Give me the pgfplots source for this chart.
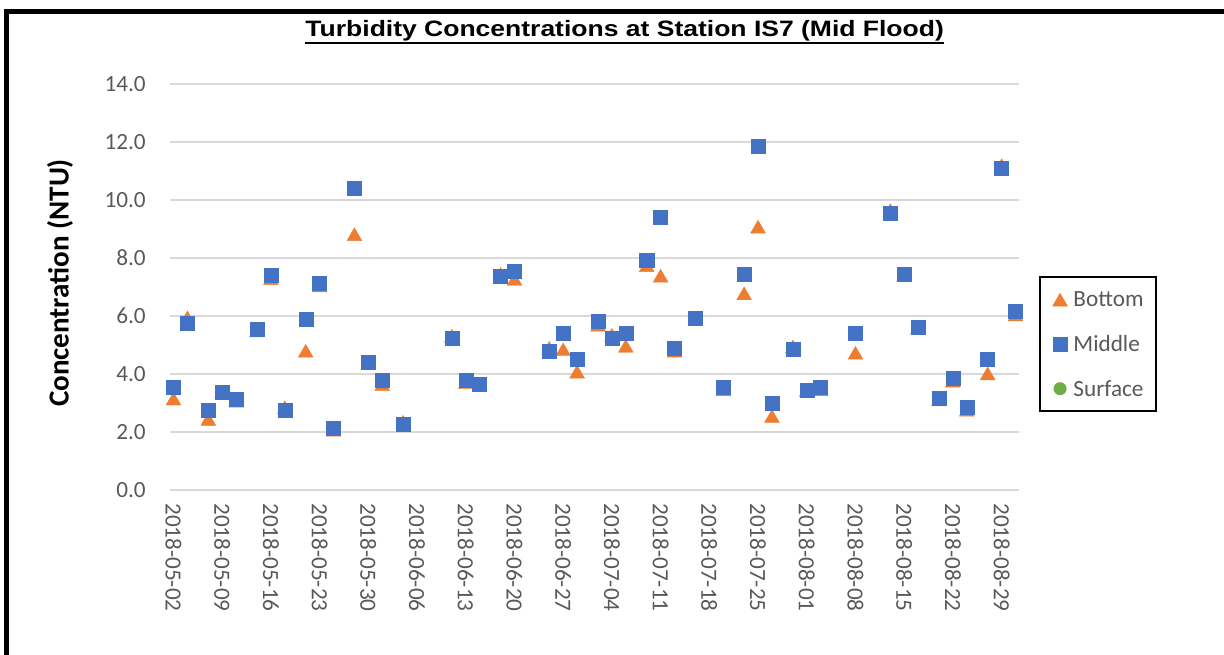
\documentclass[border=0pt]{standalone}
\usepackage{fontspec}
\setmainfont{Carlito}
\newfontfamily\arialfont{Liberation Sans}
\usepackage{graphicx}
\usepackage{pgfplots}
\usepackage{pgfplotstable}
\pgfplotsset{compat=1.18}
\definecolor{obor}{HTML}{ED7D31}
\definecolor{bmid}{HTML}{4472C4}
\definecolor{gsur}{HTML}{70AD47}
\definecolor{gridg}{HTML}{D9D9D9}
\definecolor{tickg}{HTML}{595959}

% day = days after 2018-05-02
\pgfplotstableread{
day bottom middle
0 3.15 3.56
2 5.95 5.75
5 2.45 2.76
7 3.40 3.36
9 3.08 3.14
12 5.50 5.55
14 7.30 7.39
16 2.85 2.76
19 4.80 5.90
21 7.05 7.13
23 2.08 2.14
26 8.82 10.40
28 4.40 4.40
30 3.65 3.79
33 2.35 2.26
40 5.32 5.24
42 3.72 3.79
44 3.64 3.66
47 7.45 7.36
49 7.28 7.56
54 4.90 4.80
56 4.85 5.40
58 4.08 4.52
61 5.70 5.82
63 5.35 5.25
65 4.97 5.40
68 7.75 7.92
70 7.39 9.40
72 4.80 4.89
75 5.94 5.94
79 3.47 3.54
82 6.78 7.45
84 9.08 11.87
86 2.55 3.00
89 4.95 4.85
91 3.45 3.45
93 3.47 3.54
98 4.73 5.40
103 9.65 9.56
105 7.45 7.45
107 5.61 5.61
110 3.12 3.15
112 3.77 3.84
114 2.77 2.85
117 4.02 4.51
119 11.20 11.09
121 6.05 6.15
}\datatable

\begin{document}
\begin{tikzpicture}
\useasboundingbox (0,0) rectangle (918pt,491.25pt);
\draw[line width=3.75pt, line join=miter] (4.5pt,0) -- (4.5pt,482.6pt) -- (918pt,482.6pt);

\node[anchor=base, inner sep=0pt, font=\arialfont\bfseries\fontsize{16.7}{20}\selectfont] (T) at (468.5pt,463.7pt) {\scalebox{1.19}[1]{Turbidity Concentrations at Station IS7 (Mid Flood)}};
\draw[line width=1.5pt] ([yshift=-4.9pt]T.base west) -- ([yshift=-4.9pt]T.base east);

\node[rotate=90, font=\bfseries\fontsize{21.8}{24}\selectfont] at (45pt,279pt) {Concentration (NTU)};

\begin{axis}[
  at={(127.5pt,123.75pt)}, anchor=south west,
  scale only axis, width=636.75pt, height=304.5pt,
  xmin=-0.5, xmax=121.5, ymin=0, ymax=14,
  xtick={0,7,...,119},
  xticklabels={2018-05-02,2018-05-09,2018-05-16,2018-05-23,2018-05-30,2018-06-06,2018-06-13,2018-06-20,2018-06-27,2018-07-04,2018-07-11,2018-07-18,2018-07-25,2018-08-01,2018-08-08,2018-08-15,2018-08-22,2018-08-29},
  ytick={0,2,...,14},
  axis line style={draw=none},
  major tick length=0pt,
  ymajorgrids, grid style={gridg, line width=1.1pt},
  /pgf/number format/assume math mode=true,
  tick label style={font=\fontsize{17.4}{20}\selectfont, text=tickg},
  y tick label style={inner sep=0pt, xshift=-18pt, /pgf/number format/fixed, /pgf/number format/fixed zerofill, /pgf/number format/precision=1},
  x tick label style={yshift=-9.75pt, rotate=-90, anchor=west, inner sep=0pt},
  legend style={at={(1.02355,0.5271)}, anchor=north west, draw=black, line width=1.5pt,
    inner xsep=9.5pt, inner ysep=9pt, font=\fontsize{17.4}{20}\selectfont, text=tickg,
    row sep=17.4pt, nodes={inner sep=0pt, text height=13.5pt, text depth=2.5pt},
    /tikz/every odd column/.append style={column sep=4.5pt}},
  legend cell align=left,
  legend image code/.code={\draw[mark repeat=2,mark phase=2,line width=0.3pt,#1] plot coordinates {(0pt,0pt)(5.25pt,0pt)(10.5pt,0pt)};},
]
\addplot[only marks, mark=triangle*, mark size=6.4pt, color=obor, mark options={yshift=-1.6pt, line width=0.3pt, fill=obor, draw=obor}] table[x=day, y=bottom] {\datatable};
\addlegendentry{Bottom}
\addplot[only marks, mark=square*, mark size=5.25pt, color=bmid, mark options={line width=0.3pt, fill=bmid, draw=bmid}] table[x=day, y=middle] {\datatable};
\addlegendentry{Middle}
\addlegendimage{only marks, mark=*, mark size=4.7pt, color=gsur, mark options={line width=0.3pt, fill=gsur, draw=gsur}}
\addlegendentry{Surface}
\end{axis}
\end{tikzpicture}
\end{document}
